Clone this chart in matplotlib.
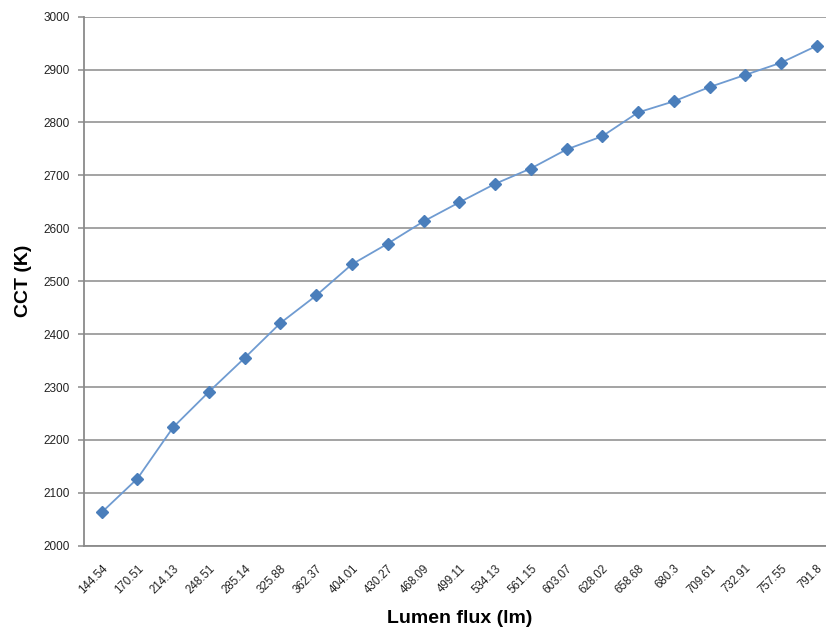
import matplotlib
matplotlib.use('Agg')
import matplotlib.pyplot as plt

# datos
flujo = ['144.54', '170.51', '214.13', '248.51', '285.14', '325.88', '362.37',
         '404.01', '430.27', '468.09', '499.11', '534.13', '561.15', '603.07',
         '628.02', '658.68', '680.3', '709.61', '732.91', '757.55', '791.8']
cct = [2063, 2127, 2224, 2291, 2355, 2421, 2473, 2532, 2571, 2613, 2649,
       2684, 2713, 2749, 2774, 2819, 2840, 2867, 2890, 2913, 2945]

y_ticks = list(range(2000, 3001, 100))

plt.rcParams['font.family'] = ['Liberation Sans', 'DejaVu Sans']

COLOR_LINEA = '#6f9bd1'
COLOR_MARCA = '#4a7ebb'
COLOR_GRID = '#8a8a8a'

fig = plt.figure(figsize=(8.26, 6.30), dpi=100)
ax = fig.add_axes([0.1015, 0.1338, 0.909, 0.8397])

x = list(range(len(flujo)))
ax.plot(x, cct, color=COLOR_LINEA, linewidth=1.3, zorder=3)
ax.plot(x, cct, linestyle='none', marker='D', markersize=6.5,
        color=COLOR_MARCA, markeredgecolor=COLOR_MARCA, zorder=4)

ax.set_xlim(-0.5, len(flujo) - 0.5)
ax.set_ylim(2000, 3000)
ax.set_yticks(y_ticks)
ax.set_yticklabels([str(v) for v in y_ticks], fontsize=8.5, color='#222222')
ax.set_xticks(x)
ax.set_xticklabels(flujo, rotation=45, ha='right', rotation_mode='anchor',
                   fontsize=8.3, color='#222222')

ax.yaxis.grid(True, color=COLOR_GRID, linewidth=1.1)
ax.set_axisbelow(True)
ax.tick_params(axis='y', length=4, width=1.1, color=COLOR_GRID, pad=6)
ax.tick_params(axis='x', length=0, pad=12)

for lado in ['top', 'right']:
    ax.spines[lado].set_visible(False)
for lado in ['left', 'bottom']:
    ax.spines[lado].set_color(COLOR_GRID)
    ax.spines[lado].set_linewidth(1.3)

ax.set_xlabel('Lumen flux (lm)', fontsize=14, fontweight='bold', labelpad=10)
ax.set_ylabel('CCT (K)', fontsize=14, fontweight='bold', labelpad=8)

fig.savefig('out.png', dpi=100)
